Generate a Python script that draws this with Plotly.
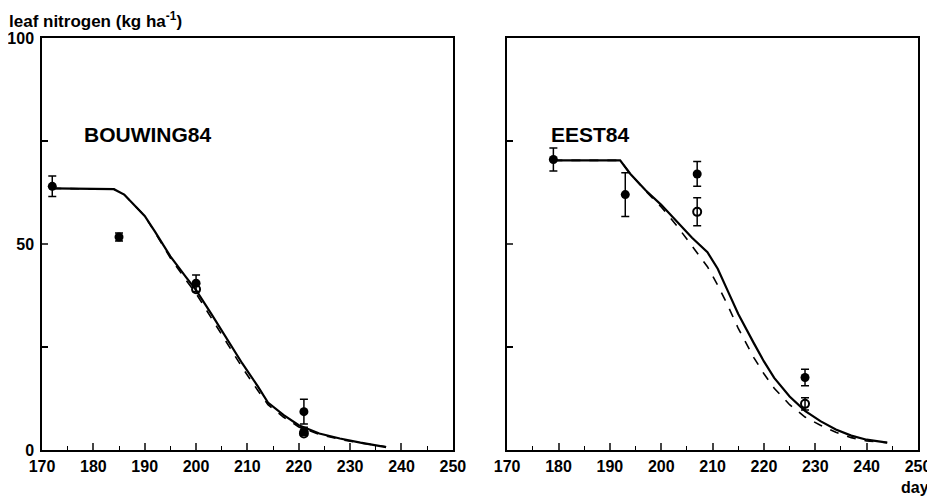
import plotly.graph_objects as go

# --- data ---
# BOUWING84 (left panel)
bw_line_day = [172, 184, 186, 188, 190, 192, 195, 198, 200, 203, 206, 209, 212, 214, 217, 220, 224, 228, 232, 237]
bw_line_val = [63.5, 63.3, 62, 59.5, 56.8, 53, 47, 42, 38.8, 33, 27, 21, 15.5, 11.5, 8.5, 6, 4, 2.8, 1.8, 0.7]
bw_dash_day = [172, 184, 186, 188, 190, 192, 195, 198, 200, 203, 206, 209, 212, 214, 217, 220, 224, 228, 232, 237]
bw_dash_val = [63.5, 63.3, 62, 59.5, 56.8, 52.8, 46.6, 41.3, 38, 32, 26, 20, 14.5, 11, 8, 5.6, 3.8, 2.6, 1.7, 0.8]
bw_obs_day = [172, 185, 200, 221, 221]
bw_obs_val = [64, 51.7, 40.5, 9.3, 4.5]
bw_obs_err = [2.5, 1.0, 2.0, 3.0, 1.0]
bw_open_day = [200, 221]
bw_open_val = [39, 4]

# EEST84 (right panel)
ee_line_day = [179, 192, 194, 197, 200, 203, 206, 209, 211, 213, 215, 218, 220, 222, 225, 228, 231, 234, 237, 240, 244]
ee_line_val = [70.3, 70.3, 67, 63, 59.5, 55.5, 51.5, 48, 44, 38.5, 33, 26, 21.5, 17.5, 13, 9.5, 7, 5, 3.5, 2.5, 1.8]
ee_dash_day = [179, 192, 194, 197, 200, 203, 206, 209, 211, 213, 215, 218, 220, 222, 225, 228, 231, 234, 237, 240, 244]
ee_dash_val = [70.3, 70.3, 67, 62.8, 59, 54.5, 49.5, 44.5, 40, 35, 29.5, 22.5, 18.5, 15, 11, 8, 6, 4.3, 3, 2.2, 1.8]
ee_obs_day = [179, 193, 207, 228]
ee_obs_val = [70.5, 62, 67, 17.6]
ee_obs_err = [2.8, 5.3, 3.0, 2.0]
ee_open_day = [207, 228]
ee_open_val = [57.8, 11.2]
ee_open_err = [3.4, 1.5]

x_ticks = list(range(170, 251, 10))
y_tick_vals = [0, 50, 100]

FONT = "Liberation Sans"

fig = go.Figure()

solid = dict(color="black", width=2.2)
dashed = dict(color="black", width=1.6, dash="dash")
err = lambda a: dict(type="data", array=a, color="black", thickness=1.5, width=4)

for ax, (ld, lv, dd, dv, od, ov, oe, pd, pv, pe) in zip(
    ["", "2"],
    [
        (bw_line_day, bw_line_val, bw_dash_day, bw_dash_val, bw_obs_day, bw_obs_val, bw_obs_err,
         bw_open_day, bw_open_val, None),
        (ee_line_day, ee_line_val, ee_dash_day, ee_dash_val, ee_obs_day, ee_obs_val, ee_obs_err,
         ee_open_day, ee_open_val, ee_open_err),
    ],
):
    xa, ya = "x" + ax, "y" + ax
    fig.add_trace(go.Scatter(x=dd, y=dv, mode="lines", line=dashed, xaxis=xa, yaxis=ya, showlegend=False))
    fig.add_trace(go.Scatter(x=ld, y=lv, mode="lines", line=solid, xaxis=xa, yaxis=ya, showlegend=False))
    fig.add_trace(go.Scatter(x=pd, y=pv, mode="markers", xaxis=xa, yaxis=ya, showlegend=False,
                             error_y=err(pe) if pe else None,
                             marker=dict(symbol="circle-open", size=8, color="black", line=dict(width=2))))
    fig.add_trace(go.Scatter(x=od, y=ov, mode="markers", xaxis=xa, yaxis=ya, showlegend=False,
                             error_y=err(oe),
                             marker=dict(symbol="circle", size=9, color="black")))

tickfont = dict(family=FONT, size=16, color="black", weight="bold")
xcommon = dict(range=[170, 250], tickvals=x_ticks, ticks="inside", ticklen=7, tickwidth=1.5,
               showline=True, linecolor="black", linewidth=1.5, mirror=True, showgrid=False,
               zeroline=False, tickfont=tickfont, ticklabelstandoff=1, automargin=False,
               minor=dict(dtick=5, ticks="inside", ticklen=4, tickwidth=1.2, tickcolor="black"))
ycommon = dict(range=[0, 100], tickvals=y_tick_vals, ticks="inside", ticklen=6, tickwidth=1.5,
               showline=True, linecolor="black", linewidth=1.5, mirror=True, showgrid=False,
               zeroline=False, tickfont=tickfont, ticklabelstandoff=3, automargin=False,
               minor=dict(tickvals=[25, 75], ticks="inside", ticklen=6, tickwidth=1.5, tickcolor="black"))

# the page body has an 8px margin, so the figure is shrunk by that much
fig.update_layout(
    width=927, height=488,
    paper_bgcolor="white", plot_bgcolor="white",
    margin=dict(l=34, r=17, t=30, b=46),
    xaxis=dict(domain=[0, 0.469], anchor="y", **xcommon),
    yaxis=dict(domain=[0, 1], anchor="x", **ycommon),
    xaxis2=dict(domain=[0.531, 1], anchor="y2", **xcommon),
    yaxis2=dict(domain=[0, 1], anchor="x2", **{**ycommon, "showticklabels": False}),
    annotations=[
        dict(text="<b>leaf nitrogen (kg ha<sup>-1</sup>)</b>", xref="paper", yref="paper",
             x=-0.0388, y=1.073, xanchor="left", yanchor="top", showarrow=False, borderpad=0,
             font=dict(family=FONT, size=17, color="black")),
        dict(text="<b>day</b>", xref="paper", yref="paper", x=1.0137, y=-0.09,
             xanchor="right", yanchor="middle", showarrow=False, borderpad=0,
             font=dict(family=FONT, size=16, color="black")),
        dict(text="<b>BOUWING84</b>", xref="x", yref="y", x=177.8, y=76.7,
             xanchor="left", yanchor="middle", showarrow=False,
             font=dict(family=FONT, size=21, color="black")),
        dict(text="<b>EEST84</b>", xref="x2", yref="y2", x=178.2, y=76.7,
             xanchor="left", yanchor="middle", showarrow=False,
             font=dict(family=FONT, size=21, color="black")),
    ],
)

fig.write_html("out.html")
